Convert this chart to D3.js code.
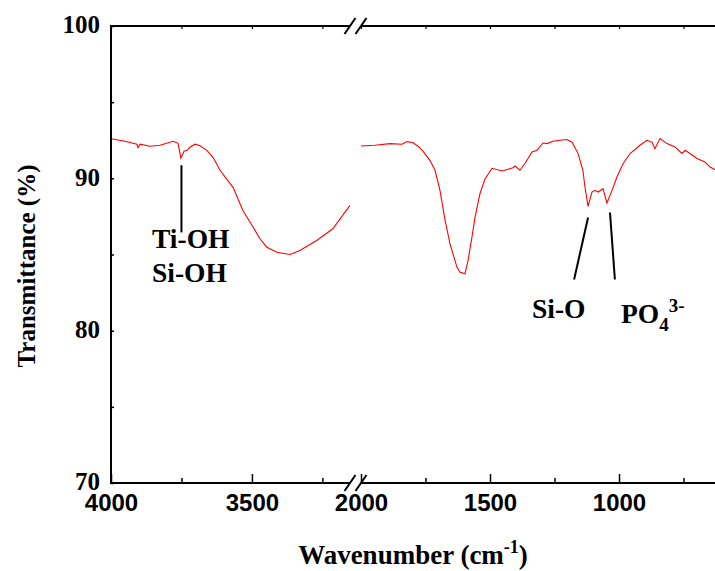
<!DOCTYPE html>
<html><head><meta charset="utf-8">
<script src="https://cdn.jsdelivr.net/npm/d3@7"></script>
<style>html,body{margin:0;padding:0;background:#fff;overflow:hidden}</style>
</head><body><svg id="c" width="715" height="571"></svg>
<script>
// Left segment (4000 – ~3150 cm-1)
const leftWn = [4000,3950,3908,3904,3897,3862,3826,3780,3762,3752,3741,3730,3720,3702,3684,3660,3638,3613,3589,3567,3532,3496,3472,3447,3411,3365,3330,3270,3213,3152];
const leftT  = [92.60,92.43,92.24,92.01,92.24,92.11,92.17,92.43,92.30,91.32,91.78,91.84,92.04,92.24,92.14,91.84,91.38,90.53,89.93,89.41,87.89,86.80,86.05,85.48,85.15,85.00,85.26,85.92,86.69,88.22];
// Right segment (2000 – ~630 cm-1)
const rightWn = [2000,1946,1888,1841,1822,1798,1779,1760,1733,1713,1694,1674,1655,1628,1616,1597,1585,1570,1558,1539,1519,1492,1453,1430,1411,1403,1384,1364,1337,1318,1295,1279,1256,1229,1202,1182,1159,1140,1132,1120,1105,1093,1081,1062,1047,1027,1008,984,957,919,892,872,861,841,814,783,756,744,725,698,667,647,628];
const rightT  = [92.12,92.17,92.28,92.24,92.41,92.34,92.11,91.78,91.18,90.53,89.21,87.24,85.70,84.16,83.84,83.73,84.61,86.14,87.45,88.99,89.98,90.66,90.48,90.59,90.70,90.81,90.53,90.99,91.73,91.84,92.32,92.28,92.43,92.50,92.55,92.37,91.64,90.53,89.43,88.16,89.10,89.21,89.10,89.32,88.38,89.21,90.09,90.97,91.63,92.17,92.50,92.37,91.95,92.61,92.28,92.06,91.63,91.84,91.63,91.30,91.07,90.74,90.57];

const yTickValues = [70,75,80,85,90,95,100];
const yTickLabels = [70,80,90,100];
const leftMajor = [4000,3500], leftMinor = [3750,3250];
const rightMajor = [2000,1500,1000], rightMinor = [1750,1250,750];

const svg = d3.select("#c");
const SERIF = "'Liberation Serif','Times New Roman',serif";
const SANS = "'Liberation Sans',Arial,sans-serif";

const y = d3.scaleLinear().domain([70,100]).range([483,26]);
const xL = d3.scaleLinear().domain([4000,3152]).range([111,350]);
const xR = d3.scaleLinear().domain([2000,628]).range([361,715]);
const TOP = 26, BOT = 483;

// curves
const lineL = d3.line().x((d,i)=>xL(leftWn[i])).y((d,i)=>y(leftT[i]));
const lineR = d3.line().x((d,i)=>xR(rightWn[i])).y((d,i)=>y(rightT[i]));
svg.append("path").attr("d", lineL(leftWn)).attr("fill","none").attr("stroke","#ff0000").attr("stroke-width",1.1);
svg.append("path").attr("d", lineR(rightWn)).attr("fill","none").attr("stroke","#ff0000").attr("stroke-width",1.1);

// y axis
const yAxis = d3.axisLeft(y).tickValues(yTickValues).tickSizeInner(-3).tickSizeOuter(0).tickPadding(11)
  .tickFormat(d => yTickLabels.includes(d) ? d : "");
const gy = svg.append("g").attr("transform","translate(111,0)").call(yAxis);
gy.select(".domain").remove();
gy.selectAll("line").attr("stroke","#000").attr("stroke-width",1.5);
gy.selectAll("text").attr("font-family",SERIF).attr("font-weight","bold").attr("font-size",25).attr("fill","#000").attr("dy","0.27em");

// bottom axes
function bottomAxis(scale, major, minor){
  const g1 = svg.append("g").attr("transform",`translate(0,${BOT})`)
    .call(d3.axisBottom(scale).tickValues(major).tickFormat(d3.format("d")).tickSizeInner(-9).tickSizeOuter(0).tickPadding(11));
  g1.select(".domain").remove();
  g1.selectAll("line").attr("stroke","#000").attr("stroke-width",1.5);
  g1.selectAll("text").attr("font-family",SANS).attr("font-weight","bold").attr("font-size",24).attr("fill","#000");
  const g2 = svg.append("g").attr("transform",`translate(0,${BOT})`)
    .call(d3.axisBottom(scale).tickValues(minor).tickSizeInner(-5).tickSizeOuter(0).tickFormat(""));
  g2.select(".domain").remove();
  g2.selectAll("line").attr("stroke","#000").attr("stroke-width",1.5);
  const g3 = svg.append("g").attr("transform",`translate(0,${TOP})`)
    .call(d3.axisTop(scale).tickValues(major.concat(minor)).tickSizeInner(-3).tickSizeOuter(0).tickFormat(""));
  g3.select(".domain").remove();
  g3.selectAll("line").attr("stroke","#000").attr("stroke-width",1.2);
}
bottomAxis(xL, leftMajor, leftMinor);
bottomAxis(xR, rightMajor, rightMinor);

// frame lines
const frame = svg.append("g").attr("stroke","#000").attr("stroke-width",2).attr("fill","none");
frame.append("line").attr("x1",111).attr("x2",111).attr("y1",TOP-1).attr("y2",BOT+1);
[TOP,BOT].forEach(yy=>{
  frame.append("line").attr("x1",110).attr("x2",xL.range()[1]).attr("y1",yy).attr("y2",yy);
  frame.append("line").attr("x1",xR.range()[0]).attr("x2",715).attr("y1",yy).attr("y2",yy);
  [xL.range()[1], xR.range()[0]].forEach(cx=>{
    frame.append("line").attr("x1",cx-5.5).attr("y1",yy+8).attr("x2",cx+5.5).attr("y2",yy-8);
  });
});

// annotations
const ann = svg.append("g").attr("stroke","#000").attr("stroke-width",2);
ann.append("line").attr("x1",xL(3750)).attr("x2",xL(3750)).attr("y1",y(90.86)).attr("y2",y(86.45));
ann.append("line").attr("x1",xR(1120)).attr("y1",y(87.43)).attr("x2",xR(1174)).attr("y2",y(83.36));
ann.append("line").attr("x1",xR(1035)).attr("y1",y(87.76)).attr("x2",xR(1016)).attr("y2",y(83.36));

const AFS = 27.5;
function label(x0,y0,txt){
  return svg.append("text").attr("x",x0).attr("y",y0).attr("font-family",SERIF).attr("font-weight","bold").attr("font-size",AFS).attr("fill","#000").text(txt);
}
label(152,248,"Ti-OH");
label(152,282,"Si-OH");
label(532,318,"Si-O");
const po = svg.append("text").attr("x",621).attr("y",323).attr("font-family",SERIF).attr("font-weight","bold").attr("font-size",AFS).attr("fill","#000");
po.append("tspan").text("PO");
po.append("tspan").attr("dy",8).attr("font-size",19).text("4");
po.append("tspan").attr("dy",-19).attr("font-size",19).text("3-");

// axis titles
const xt = svg.append("text").attr("x",413).attr("y",564).attr("text-anchor","middle").attr("font-family",SERIF).attr("font-weight","bold").attr("font-size",27).attr("fill","#000");
xt.append("tspan").text("Wavenumber (cm");
xt.append("tspan").attr("dy",-11).attr("font-size",18).text("-1");
xt.append("tspan").attr("dy",11).text(")");

svg.append("text").attr("transform","translate(35,266) rotate(-90)").attr("text-anchor","middle")
  .attr("font-family",SERIF).attr("font-weight","bold").attr("font-size",25).attr("fill","#000").text("Transmittance (%)");
</script></body></html>
